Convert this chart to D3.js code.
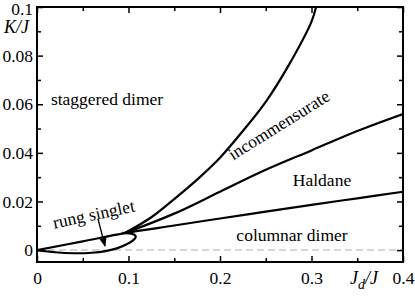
<!DOCTYPE html>
<html>
<head>
<meta charset="utf-8">
<script src="https://cdn.jsdelivr.net/npm/d3@7"></script>
<style>
  body { margin: 0; background: #fff; }
  svg text { font-family: "Liberation Serif", "Times New Roman", Times, serif; fill: #000; }
</style>
</head>
<body>
<div id="chart"></div>
<script>
// phase boundaries (Jd/J, K/J)
var lowerLineJd = [0, 0.05, 0.096, 0.15, 0.2, 0.25, 0.3, 0.35, 0.4];
var lowerLineK  = [0, 0.0036, 0.0070, 0.0101, 0.0130, 0.0158, 0.0186, 0.0213, 0.0240];

var loopJd = [0, 0.02, 0.04, 0.06, 0.075, 0.088, 0.098, 0.105, 0.108, 0.106, 0.1, 0.093];
var loopK  = [0, -0.0009, -0.0013, -0.0011, -0.0004, 0.0008, 0.0024, 0.0040, 0.0055, 0.0064, 0.0069, 0.0071];

var incommJd = [0.096, 0.125, 0.15, 0.175, 0.2, 0.225, 0.25, 0.275, 0.3, 0.305];
var incommK  = [0.0070, 0.0135, 0.0210, 0.0290, 0.0380, 0.0490, 0.0610, 0.0760, 0.0940, 0.1];

var haldaneJd = [0.096, 0.15, 0.2, 0.25, 0.3, 0.35, 0.4];
var haldaneK  = [0.0070, 0.0150, 0.0240, 0.0330, 0.0410, 0.0490, 0.0560];

var xTicks = [0, 0.1, 0.2, 0.3, 0.4];
var xMinor = [0.05, 0.15, 0.25, 0.35];
var yTicks = [0, 0.02, 0.04, 0.06, 0.08, 0.1];
var yMinor = [0.01, 0.03, 0.05, 0.07, 0.09];

var w = 415, h = 297;
var mLeft = 37, mRight = 403, mTop = 7, mBottom = 262;

var x = d3.scaleLinear().domain([0, 0.4]).range([mLeft, mRight]);
var y = d3.scaleLinear().domain([-0.0049, 0.1]).range([mBottom, mTop]);

var svg = d3.select("#chart").append("svg")
            .attr("width", w)
            .attr("height", h);

function zip(a, b) {
    return a.map(function(v, i) { return [v, b[i]]; });
}

// dashed zero line
svg.append("line")
   .attr("x1", x(0)).attr("x2", x(0.4))
   .attr("y1", y(0)).attr("y2", y(0))
   .style("stroke", "#c8c8c8")
   .style("stroke-width", 1.5)
   .style("stroke-dasharray", "7,4");

var line = d3.line()
             .x(function(d) { return x(d[0]); })
             .y(function(d) { return y(d[1]); })
             .curve(d3.curveCatmullRom.alpha(0.5));

var curves = [zip(lowerLineJd, lowerLineK), zip(loopJd, loopK),
              zip(incommJd, incommK), zip(haldaneJd, haldaneK)];

svg.append("clipPath").attr("id", "clip")
   .append("rect")
   .attr("x", mLeft).attr("y", mTop)
   .attr("width", mRight - mLeft).attr("height", mBottom - mTop);

svg.selectAll("path.curve")
   .data(curves)
   .enter()
   .append("path")
   .attr("class", "curve")
   .attr("d", line)
   .attr("clip-path", "url(#clip)")
   .style("fill", "none")
   .style("stroke", "#000")
   .style("stroke-width", 2.2);

// axes, ticks pointing inward on all four sides
svg.append("g").attr("transform", "translate(0," + mBottom + ")")
   .call(d3.axisBottom(x).tickValues(xTicks).tickFormat(d3.format("")).tickSizeInner(-6).tickSizeOuter(0).tickPadding(10));
var gy = svg.append("g").attr("transform", "translate(" + mLeft + ",0)")
   .call(d3.axisLeft(y).tickValues(yTicks).tickFormat(d3.format("")).tickSizeInner(-6).tickSizeOuter(0).tickPadding(4));

svg.append("g").attr("transform", "translate(0," + mBottom + ")")
   .call(d3.axisBottom(x).tickValues(xMinor).tickSizeInner(-4).tickSizeOuter(0).tickFormat(""));
svg.append("g").attr("transform", "translate(" + mLeft + ",0)")
   .call(d3.axisLeft(y).tickValues(yMinor).tickSizeInner(-4).tickSizeOuter(0).tickFormat(""));
svg.append("g").attr("transform", "translate(0," + mTop + ")")
   .call(d3.axisTop(x).tickValues(xTicks).tickSizeInner(-6).tickSizeOuter(0).tickFormat(""));
svg.append("g").attr("transform", "translate(0," + mTop + ")")
   .call(d3.axisTop(x).tickValues(xMinor).tickSizeInner(-4).tickSizeOuter(0).tickFormat(""));
svg.append("g").attr("transform", "translate(" + mRight + ",0)")
   .call(d3.axisRight(y).tickValues(yTicks).tickSizeInner(-6).tickSizeOuter(0).tickFormat(""));
svg.append("g").attr("transform", "translate(" + mRight + ",0)")
   .call(d3.axisRight(y).tickValues(yMinor).tickSizeInner(-4).tickSizeOuter(0).tickFormat(""));

svg.selectAll("g").attr("font-family", null);
svg.selectAll(".domain").remove();
svg.selectAll(".tick line").style("stroke", "#000").style("stroke-width", 1.5);
svg.selectAll(".tick text").style("font-size", "17.5px").style("fill", "#000");

// top label pokes out of the picture, nudge it down a little
gy.selectAll(".tick text")
  .filter(function(d) { return d === 0.1; })
  .attr("dy", "0.4em");

svg.append("rect")
   .attr("x", mLeft).attr("y", mTop)
   .attr("width", mRight - mLeft).attr("height", mBottom - mTop)
   .style("fill", "none")
   .style("stroke", "#000")
   .style("stroke-width", 2);

// axis titles
svg.append("text")
   .attr("x", 4).attr("y", 33)
   .style("font-size", "18px").style("font-style", "italic")
   .text("K/J");

var xt = svg.append("text")
   .attr("x", 350).attr("y", 284)
   .style("font-size", "18px").style("font-style", "italic");
xt.append("tspan").text("J");
xt.append("tspan").attr("dy", 5).style("font-size", "14px").text("d");
xt.append("tspan").attr("dy", -5).text("/J");

// region labels
function label(txt, cx, cy, angle) {
    svg.append("text")
       .attr("transform", "translate(" + cx + "," + cy + ") rotate(" + angle + ")")
       .attr("text-anchor", "middle")
       .style("font-size", "17.5px")
       .text(txt);
}
label("staggered dimer", 107, 105, 0);
label("incommensurate", 282, 130, -32);
label("Haldane", 322, 186, 0);
label("rung singlet", 95, 220, -12);
label("columnar dimer", 292, 241, 0);

// arrow to the rung singlet pocket
svg.append("defs").append("marker")
   .attr("id", "arrow")
   .attr("viewBox", "0 0 10 10")
   .attr("refX", 9).attr("refY", 5)
   .attr("markerWidth", 7).attr("markerHeight", 7)
   .attr("orient", "auto")
   .append("path")
   .attr("d", "M0,1 L10,5 L0,9 z")
   .style("fill", "#000");

svg.append("line")
   .attr("x1", 98).attr("y1", 219)
   .attr("x2", 105).attr("y2", 246)
   .style("stroke", "#000")
   .style("stroke-width", 1.3)
   .attr("marker-end", "url(#arrow)");
</script>
</body>
</html>
